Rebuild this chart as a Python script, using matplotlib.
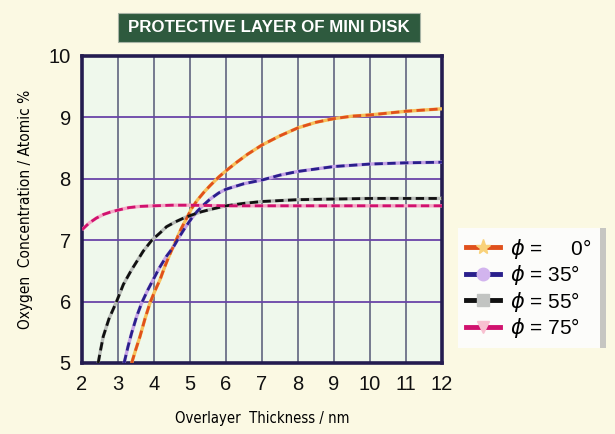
import matplotlib
matplotlib.use("Agg")
import matplotlib.pyplot as plt
from matplotlib import font_manager as fm
from matplotlib.lines import Line2D
from matplotlib.patches import Rectangle

# ---------------- data ----------------
x_phi0 = [3.38, 3.5, 3.61, 3.75, 3.89, 4.03, 4.17, 4.3, 4.44, 4.6, 4.75, 4.9, 5.05, 5.2,
          5.4, 5.56, 5.8, 6.0, 6.3, 6.6, 7.0, 7.5, 8.0, 8.5, 9.0, 9.5, 10.0, 10.5, 11.0, 11.5, 12.0]
y_phi0 = [5.0, 5.23, 5.43, 5.72, 5.98, 6.18, 6.36, 6.57, 6.77, 6.98, 7.18, 7.35, 7.52, 7.65,
          7.79, 7.89, 8.03, 8.13, 8.27, 8.4, 8.55, 8.7, 8.83, 8.92, 8.98, 9.02, 9.04, 9.07, 9.1, 9.12, 9.14]

x_phi35 = [3.17, 3.28, 3.38, 3.52, 3.66, 3.82, 3.98, 4.15, 4.35, 4.54, 4.7, 4.86, 5.05, 5.2,
           5.37, 5.56, 5.8, 6.0, 6.5, 7.0, 7.5, 8.0, 8.5, 9.0, 10.0, 11.0, 12.0]
y_phi35 = [5.0, 5.27, 5.49, 5.76, 5.98, 6.18, 6.36, 6.55, 6.74, 6.89, 7.05, 7.2, 7.36, 7.47,
           7.57, 7.67, 7.77, 7.83, 7.92, 7.98, 8.06, 8.12, 8.16, 8.2, 8.24, 8.26, 8.27]

x_phi55 = [2.45, 2.5, 2.59, 2.75, 2.96, 3.15, 3.38, 3.7, 3.94, 4.17, 4.35, 4.6, 4.86, 5.05,
           5.3, 5.56, 6.0, 6.5, 7.0, 8.0, 9.0, 10.0, 11.0, 12.0]
y_phi55 = [5.0, 5.16, 5.43, 5.72, 6.0, 6.28, 6.52, 6.82, 7.0, 7.12, 7.22, 7.3, 7.37, 7.41,
           7.46, 7.5, 7.56, 7.6, 7.63, 7.66, 7.67, 7.68, 7.68, 7.68]

x_phi75 = [2.0, 2.2, 2.4, 2.6, 2.8, 3.0, 3.3, 3.6, 4.0, 4.5, 5.0, 6.0, 7.0, 8.0, 9.0, 10.0, 11.0, 12.0]
y_phi75 = [7.17, 7.28, 7.36, 7.42, 7.46, 7.49, 7.53, 7.55, 7.56, 7.57, 7.57, 7.56, 7.56, 7.56,
           7.56, 7.56, 7.56, 7.56]

x_ticks = [2, 3, 4, 5, 6, 7, 8, 9, 10, 11, 12]
y_ticks = [5, 6, 7, 8, 9, 10]
legend_labels = ['$\\phi$ = \u2007\u20070\u00b0', '$\\phi$ = 35\u00b0',
                 '$\\phi$ = 55\u00b0', '$\\phi$ = 75\u00b0']
title = 'PROTECTIVE LAYER OF MINI DISK'

# ---------------- fonts ----------------
fonts = fm.fontManager.ttflist
names = {f.name for f in fonts}
cond = [f for f in fonts if f.name == 'DejaVu Sans' and 'ondensed' in f.fname]
if 'Liberation Sans Narrow' in names:
    narrow = dict(family=['Liberation Sans Narrow', 'DejaVu Sans'])
    nscale = 1.0
elif cond:
    narrow = dict(family=['DejaVu Sans'], fontstretch='condensed')
    nscale = 0.92
else:
    narrow = dict(family=['Liberation Sans', 'DejaVu Sans'])
    nscale = 0.85

# ---------------- style ----------------
fig_bg = '#fbf9e3'
ax_bg = '#eff8ec'
plt.rcParams['font.family'] = ['Liberation Sans', 'DejaVu Sans']

series = [
    (x_phi0, y_phi0, '#e0501c', '#f7c05a', '*', '#f9d27a'),
    (x_phi35, y_phi35, '#2a1f8c', '#c4a2e6', 'o', '#d2b4ee'),
    (x_phi55, y_phi55, '#111111', '#b8bcb8', 's', '#c2c4c2'),
    (x_phi75, y_phi75, '#d0126e', '#f5a8c6', 'v', '#f8c0d0'),
]

fig = plt.figure(figsize=(6.15, 4.34), dpi=100, facecolor=fig_bg)
ax = fig.add_axes([0.1333, 0.1636, 0.5854, 0.7074])
ax.set_facecolor(ax_bg)

for xs, ys, dark, light, mk, mfc in series:
    ax.plot(xs, ys, color=light, lw=2.4, solid_capstyle='butt', zorder=3)
    ax.plot(xs, ys, color=dark, lw=2.0, ls=(0, (3, 1.6)), zorder=4)

ax.set_xlim(2, 12)
ax.set_ylim(5, 10)
ax.set_xticks(x_ticks)
ax.set_yticks(y_ticks)
ax.tick_params(length=0, labelsize=14.5, colors='#111111')
ax.tick_params(axis='x', pad=9)
ax.tick_params(axis='y', pad=8)

for x in x_ticks[1:-1]:
    ax.axvline(x, color='#6c7088', lw=1.3, zorder=1)
for y in y_ticks[1:-1]:
    ax.axhline(y, color='#6a44a8', lw=1.3, zorder=1)

for side in ['left', 'right', 'top', 'bottom']:
    ax.spines[side].set_color('#241c50')
    ax.spines[side].set_linewidth(2.6)

ax.set_xlabel('Overlayer  Thickness / nm', fontsize=11.5 * nscale, labelpad=12, **narrow)
ax.set_ylabel('Oxygen  Concentration / Atomic %', fontsize=12 * nscale, labelpad=11, **narrow)

# title box
fig.patches.append(Rectangle((0.1919, 0.9032), 0.491, 0.0668, transform=fig.transFigure,
                             facecolor='#2e5a3e', edgecolor='#a8b4a6', lw=0.8, zorder=0))
fig.text(0.4374, 0.9366, title, ha='center', va='center', color='white',
         fontsize=12.2, fontweight='bold', family=['Liberation Sans', 'DejaVu Sans'])

handles = [Line2D([0], [0], color=dark, lw=3.5, marker=mk, markersize=11 if mk == '*' else 9,
                  markerfacecolor=mfc, markeredgecolor=mfc)
           for _, _, dark, light, mk, mfc in series]

leg = fig.legend(handles, legend_labels, loc='upper left', bbox_to_anchor=(0.728, 0.498),
                 frameon=True, fontsize=15, handlelength=1.6, handletextpad=0.5,
                 labelspacing=0.12, borderpad=0.4, fancybox=False)
leg.get_frame().set_facecolor('#fcfcfa')
leg.get_frame().set_edgecolor('none')
leg.get_frame().set_alpha(1)

# legend shadow bar on the right
fig.canvas.draw()
bb = leg.get_window_extent().transformed(fig.transFigure.inverted())
fig.patches.append(Rectangle((bb.x1, bb.y0), 0.009, bb.height, transform=fig.transFigure,
                             facecolor='#c6c6c2', edgecolor='none', zorder=0))

fig.savefig('out.png', dpi=100, facecolor=fig_bg)
